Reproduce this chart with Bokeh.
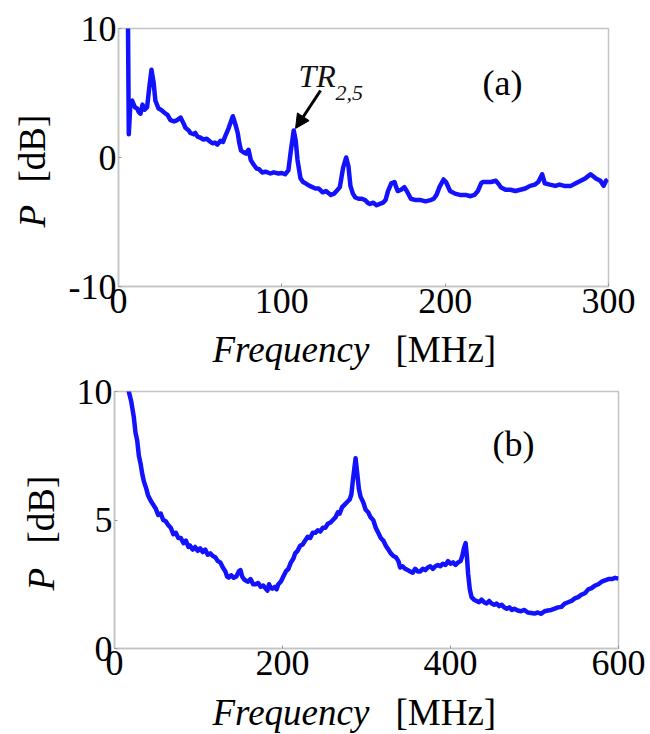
import math
from bokeh.plotting import figure
from bokeh.models import Label, Arrow, NormalHead, FixedTicker, Range1d, ColumnDataSource
from bokeh.layouts import column, row
from bokeh.embed import file_html
from bokeh.resources import INLINE

# ---------------- data ----------------
top_freq = [5.8, 6.3, 6.8, 7.3, 8.4, 10, 11.4, 12.5, 13.5, 14.7, 16, 17.5, 19, 20.2, 21.5, 22.6,
            24.5, 26, 28.8, 30, 31.8, 34, 36, 38, 40, 41, 43, 44, 46, 47, 48.5, 50, 52, 54, 56,
            57.5, 59, 60.5, 62.5, 64, 65.5, 67.5, 70, 71.5, 73, 74, 75, 76.5, 78, 79.6, 81, 82.5,
            84.5, 86, 88, 90, 93, 95, 98, 100, 102, 104, 105.5, 107.3, 108.5, 109.6, 111.4, 113,
            114.5, 117, 120.6, 122.5, 125, 127, 130, 132, 133.5, 135.5, 137.5, 139.4, 140.8, 142,
            143.5, 145, 147, 149, 151, 152.5, 154, 156, 158, 160, 162, 163.5, 165, 167, 169, 170,
            171, 173, 175, 176.5, 179, 182, 185, 188, 191, 193, 194.7, 196.5, 199, 200.5, 203,
            206, 209, 212.5, 215.5, 218, 220, 222, 223, 226, 228, 231, 233, 234, 237, 240, 243,
            246, 249, 252, 255, 257, 259.4, 261, 264, 267.5, 270, 273, 277, 280, 283, 286, 289,
            291, 292, 295, 297, 298.5, 299.5]
top_power = [10.5, 1.8, 3.0, 4.3, 4.4, 3.9, 3.8, 3.5, 3.4, 4.1, 3.7, 3.9, 5.6, 6.8, 5.8, 4.4,
             3.8, 3.7, 3.4, 3.3, 2.9, 2.8, 2.9, 3.1, 2.6, 2.3, 2.1, 1.9, 1.8, 1.9, 1.6, 1.55, 1.4,
             1.45, 1.24, 1.1, 1.16, 1.0, 1.3, 1.2, 1.7, 2.3, 3.2, 2.6, 1.9, 1.1, 0.55, 0.4, 0.3,
             0.6, -0.2, -0.5, -0.85, -0.9, -1.16, -1.1, -1.24, -1.15, -1.24, -1.2, -1.3, -1.0,
             0.5, 2.1, 1.3, -0.2, -1.6, -1.9, -2.0, -2.2, -2.4, -2.4, -2.7, -2.6, -2.9, -2.8,
             -2.6, -2.3, -0.8, 0.0, -0.7, -2.2, -2.8, -3.1, -3.2, -3.2, -3.3, -3.5, -3.6, -3.5,
             -3.7, -3.6, -3.5, -3.3, -2.6, -2.0, -1.9, -2.3, -2.6, -2.5, -2.3, -2.6, -3.2, -3.3,
             -3.3, -3.4, -3.3, -3.2, -2.9, -2.3, -1.7, -1.9, -2.6, -2.8, -2.9, -2.9, -3.0, -2.9,
             -2.6, -2.0, -1.9, -1.9, -1.9, -1.8, -2.1, -2.3, -2.5, -2.5, -2.6, -2.5, -2.4, -2.2,
             -2.1, -1.9, -1.3, -2.0, -2.1, -2.2, -2.1, -2.2, -2.2, -2.0, -1.8, -1.6, -1.3, -1.5,
             -1.6, -1.8, -2.2, -1.8, -1.7]

bot_freq = [15, 17, 20, 23, 25, 27, 29, 31, 33, 35, 38, 40, 43, 46, 49, 52, 55, 58, 61, 64, 67,
            70, 73, 76, 79, 82, 85, 88, 90, 93, 96, 99, 102, 105, 108, 111, 114, 117, 120, 123,
            126, 129, 132, 134, 136, 139, 142, 145, 148, 150, 152, 154, 156, 159, 162, 165, 168,
            171, 174, 177, 180, 182, 184, 186, 188, 191, 193, 195, 198, 201, 204, 207, 210, 213,
            215, 218, 221, 224, 227, 230, 233, 236, 239, 242, 245, 248, 251, 254, 257, 260, 263,
            266, 268, 271, 274, 277, 280, 282, 284, 287, 289, 291, 293, 296, 299, 302, 305, 308,
            311, 314, 317, 320, 323, 326, 329, 332, 335, 338, 340, 343, 346, 349, 352, 355, 358,
            361, 364, 367, 370, 373, 376, 379, 382, 385, 388, 391, 394, 397, 400, 403, 406, 409,
            412, 414, 416, 418, 419.5, 421, 423, 425, 428, 431, 434, 437, 440, 443, 446, 449, 452,
            455, 458, 461, 464, 467, 470, 473, 476, 480, 484, 488, 492, 496, 500, 504, 508, 512,
            516, 520, 524, 528, 532, 536, 540, 544, 548, 552, 556, 560, 564, 568, 572, 576, 580,
            584, 588, 592, 596, 600]
bot_power = [10.6, 10.0, 9.6, 9.0, 8.4, 8.1, 7.5, 7.2, 6.8, 6.5, 6.2, 5.95, 5.76, 5.6, 5.45,
             5.2, 5.25, 5.0, 4.95, 4.8, 4.7, 4.45, 4.5, 4.3, 4.3, 4.1, 4.2, 3.95, 4.0, 3.85, 3.95,
             3.8, 3.9, 3.75, 3.85, 3.65, 3.7, 3.6, 3.55, 3.4, 3.35, 3.15, 3.0, 2.8, 2.76, 2.85,
             2.75, 2.8, 3.0, 3.05, 2.8, 2.7, 2.65, 2.6, 2.7, 2.5, 2.5, 2.55, 2.4, 2.45, 2.33, 2.25,
             2.5, 2.35, 2.33, 2.4, 2.3, 2.5, 2.6, 2.8, 3.0, 3.1, 3.35, 3.5, 3.7, 3.8, 4.0, 4.05,
             4.2, 4.35, 4.3, 4.5, 4.5, 4.6, 4.55, 4.7, 4.7, 4.85, 4.9, 5.0, 5.1, 5.3, 5.25, 5.5,
             5.6, 5.7, 5.8, 6.0, 6.6, 7.4, 6.8, 6.2, 5.9, 5.7, 5.4, 5.3, 5.1, 5.0, 4.7, 4.5, 4.3,
             4.2, 4.0, 3.85, 3.7, 3.6, 3.55, 3.4, 3.15, 3.2, 3.1, 3.05, 3.0, 2.95, 3.1, 3.0, 3.0,
             3.1, 3.05, 3.15, 3.2, 3.1, 3.2, 3.25, 3.2, 3.3, 3.25, 3.4, 3.3, 3.35, 3.25, 3.35, 3.4,
             3.6, 3.9, 4.1, 3.6, 2.9, 2.3, 2.0, 1.9, 1.85, 1.8, 1.9, 1.8, 1.75, 1.85, 1.75, 1.7,
             1.75, 1.65, 1.7, 1.6, 1.55, 1.6, 1.5, 1.55, 1.48, 1.45, 1.5, 1.4, 1.38, 1.36, 1.4,
             1.35, 1.45, 1.48, 1.5, 1.55, 1.6, 1.62, 1.75, 1.8, 1.85, 1.95, 2.0, 2.1, 2.15, 2.3,
             2.35, 2.45, 2.5, 2.6, 2.65, 2.7, 2.7, 2.75, 2.72]

top_xticks = [0, 100, 200, 300]
top_yticks = [-10, 0, 10]
bot_xticks = [0, 200, 400, 600]
bot_yticks = [0, 5, 10]

SERIF = "Liberation Serif"
BLUE = "#1212ff"
FRAME = "#c4c4c4"
FS = "37px"


def make_fig(xr, yr, xt, yt, fw, fh, left, right, top, bottom):
    p = figure(frame_width=fw, frame_height=fh,
               min_border_left=left, min_border_right=right,
               min_border_top=top, min_border_bottom=bottom,
               x_range=Range1d(*xr), y_range=Range1d(*yr),
               output_backend="svg", toolbar_location=None)
    p.grid.visible = False
    p.outline_line_color = FRAME
    p.outline_line_width = 1.5
    p.background_fill_color = "white"
    p.border_fill_color = "white"
    for ax, ticks in ((p.xaxis[0], xt), (p.yaxis[0], yt)):
        ax.ticker = FixedTicker(ticks=ticks)
        ax.major_label_overrides = {t: str(t) for t in ticks}
        ax.axis_line_color = FRAME
        ax.axis_line_width = 1.5
        ax.major_tick_line_color = "#999999"
        ax.major_tick_in = 3
        ax.major_tick_out = 0
        ax.minor_tick_line_color = None
        ax.major_label_text_font = SERIF
        ax.major_label_text_font_size = "36px"
        ax.major_label_text_color = "black"
        ax.major_label_standoff = 2
        ax.axis_label = None
    return p


def label_fig(w, h):
    f = figure(width=w, height=h, min_border=0, x_range=Range1d(0, w), y_range=Range1d(0, h),
               x_axis_location=None, y_axis_location=None,
               output_backend="svg", toolbar_location=None)
    f.grid.visible = False
    f.outline_line_color = None
    f.background_fill_color = "white"
    f.border_fill_color = "white"
    return f


def xlabel_fig(h, yc):
    f = label_fig(650, h)
    f.add_layout(Label(x=212, y=yc, x_units="screen", y_units="screen", text="Frequency",
                       text_font=SERIF, text_font_style="italic", text_font_size=FS,
                       text_color="black", text_align="left", text_baseline="middle"))
    f.add_layout(Label(x=395, y=yc, x_units="screen", y_units="screen", text="[MHz]",
                       text_font=SERIF, text_font_size=FS, text_color="black",
                       text_align="left", text_baseline="middle"))
    return f


def ylabel_fig(w, h, xc, p_bottom, db_bottom):
    f = label_fig(w, h)
    f.add_layout(Label(x=xc, y=p_bottom, x_units="screen", y_units="screen", text="P",
                       text_font=SERIF, text_font_style="italic", text_font_size=FS,
                       text_color="black", text_align="left", text_baseline="middle",
                       angle=math.pi / 2))
    f.add_layout(Label(x=xc, y=db_bottom, x_units="screen", y_units="screen", text="[dB]",
                       text_font=SERIF, text_font_size=FS, text_color="black",
                       text_align="left", text_baseline="middle", angle=math.pi / 2))
    return f


# ---------------- panel (a) ----------------
p1 = make_fig((0, 300), (-10, 10), top_xticks, top_yticks, 490, 258, 64, 42, 28, 42)
p1.line(x="f", y="p", source=ColumnDataSource(dict(f=top_freq, p=top_power)),
        line_color=BLUE, line_width=4.5, line_join="round")
p1.add_layout(Label(x=222.9, y=5.74, text="(a)", text_font=SERIF, text_font_size="36px",
                    text_color="black", text_align="left", text_baseline="middle"))
p1.add_layout(Label(x=110.2, y=6.28, text="TR", text_font=SERIF, text_font_style="italic",
                    text_font_size="32px", text_align="left", text_baseline="middle",
                    text_color="#111111"))
p1.add_layout(Label(x=132.9, y=4.99, text="2,5", text_font=SERIF, text_font_style="italic",
                    text_font_size="22px", text_align="left", text_baseline="middle",
                    text_color="#111111"))
p1.add_layout(Arrow(x_start=123.7, y_start=5.19, x_end=108.4, y_end=2.25,
                    line_color="black", line_width=3,
                    end=NormalHead(size=14, fill_color="black", line_color="black")))
ya = ylabel_fig(54, 328, 32, 59, 104)
xa = xlabel_fig(42, 21)

# ---------------- panel (b) ----------------
p2 = make_fig((0, 600), (0, 10), bot_xticks, bot_yticks, 504, 257, 50, 32, 21, 42)
p2.line(x="f", y="p", source=ColumnDataSource(dict(f=bot_freq, p=bot_power)),
        line_color=BLUE, line_width=4.5, line_join="round")
p2.add_layout(Label(x=450, y=7.94, text="(b)", text_font=SERIF, text_font_size="36px",
                    text_color="black", text_align="left", text_baseline="middle"))
yb = ylabel_fig(64, 320, 41, 58, 105)
xb = xlabel_fig(44, 22)

layout = column(row(ya, p1, spacing=0), xa, row(yb, p2, spacing=0), xb, spacing=0)
open("out.html", "w").write(file_html(layout, INLINE))
